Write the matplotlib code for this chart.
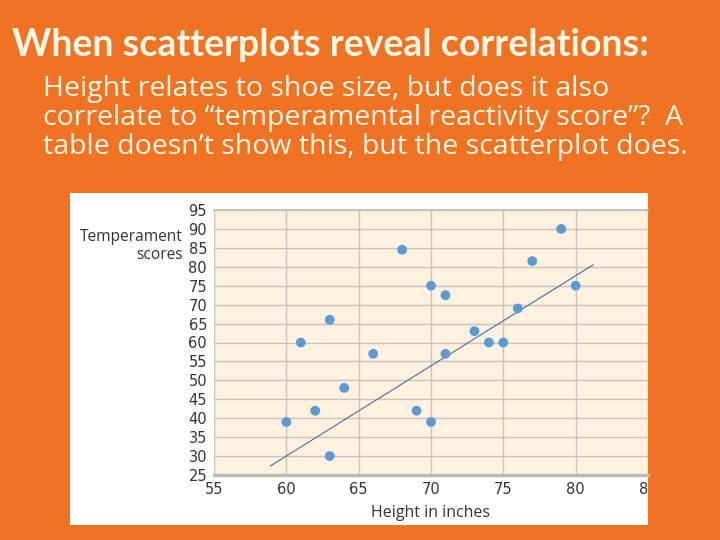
import matplotlib.pyplot as plt
from matplotlib.patches import Rectangle

# Heights (inches) and temperament scores
height = [60, 61, 62, 63, 63, 64, 66, 68, 69, 70, 70, 71, 71, 73, 74, 75, 76, 77, 79, 80]
temper = [39, 60, 42, 66, 30, 48, 57, 84.5, 42, 39, 75, 72.5, 57, 63, 60, 60, 69, 81.5, 90, 75]

# ends of the drawn trend line
trend_x = [58.9, 81.2]
trend_y = [27.4, 80.5]

x_ticks = [55, 60, 65, 70, 75, 80, 85]
y_ticks = [25, 30, 35, 40, 45, 50, 55, 60, 65, 70, 75, 80, 85, 90, 95]

orange = '#F07324'
cream_text = '#FFF6E6'

fig = plt.figure(figsize=(7.2, 5.4), dpi=100)
fig.patch.set_facecolor(orange)

# white panel behind the chart
panel = Rectangle((70 / 720, 1 - 525 / 540), (648 - 70) / 720, (525 - 193) / 540,
                  transform=fig.transFigure, facecolor='white', edgecolor='none', zorder=-10)
fig.patches.append(panel)

fig.text(12 / 720, 1 - 45 / 540, 'When scatterplots reveal correlations:', fontsize=27,
         fontweight='bold', family='Lato', color=cream_text, va='center', ha='left')
fig.text(43 / 720, 1 - 75 / 540,
         'Height relates to shoe size, but does it also\n'
         'correlate to \u201ctemperamental reactivity score\u201d?  A\n'
         'table doesn\u2019t show this, but the scatterplot does.',
         fontsize=20.5, family='Open Sans', color=cream_text, va='top', ha='left',
         linespacing=1.05)

ax = fig.add_axes([214 / 720, 1 - 475 / 540, (648 - 214) / 720, (475 - 210) / 540])
ax.set_facecolor('#FDF1E0')
ax.set_xlim(55, 85)
ax.set_ylim(25, 95)
ax.set_xticks(x_ticks)
ax.set_yticks(y_ticks)
ax.set_xticklabels([str(v) for v in x_ticks])
ax.set_yticklabels([str(v) for v in y_ticks])
ax.tick_params(length=0, labelsize=10.5, labelcolor='#333333')
ax.tick_params(axis='x', pad=5)
ax.tick_params(axis='y', pad=5)
ax.grid(True, color='#C8C3BC', linewidth=1)
ax.set_axisbelow(True)
for s in ['left', 'right']:
    ax.spines[s].set_visible(False)
ax.spines['bottom'].set_color('#BDBAB5')
ax.spines['bottom'].set_linewidth(2.5)
ax.spines['top'].set_color('#C8C3BC')
ax.spines['top'].set_linewidth(1.5)

# the last x label is cut by the white panel edge in the original
for lab in ax.get_xticklabels():
    lab.set_clip_path(panel)

ax.plot(trend_x, trend_y, color='#4A6A9A', linewidth=0.8, zorder=2)
ax.scatter(height, temper, s=50, color='#5B9BD5', edgecolors='none', zorder=3)

ax.set_xlabel('Height in inches', fontsize=11.5, color='#333333', family='Open Sans', labelpad=6)
fig.text(183 / 720, 1 - 246 / 540, 'Temperament\nscores', fontsize=11.2, color='#333333',
         family='Open Sans', ha='right', va='center', linespacing=1.1)

fig.savefig('out.png', dpi=100, facecolor=fig.get_facecolor())
